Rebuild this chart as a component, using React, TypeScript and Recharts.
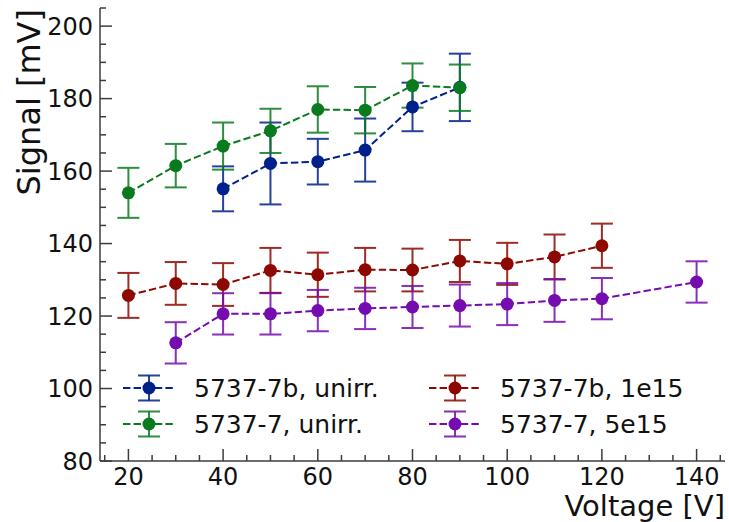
import React from "react";
import { ComposedChart, Line, XAxis, YAxis, ErrorBar } from "recharts";

// 5737-7b, unirr.
const volt7bUnirr = [40, 50, 60, 70, 80, 90];
const signal7bUnirr = [155.1, 162.1, 162.6, 165.8, 177.7, 183.1];
const err7bUnirr = [6.2, 11.3, 6.3, 8.7, 6.7, 9.3];

// 5737-7, unirr.
const volt7Unirr = [20, 30, 40, 50, 60, 70, 80, 90];
const signal7Unirr = [154.0, 161.5, 166.9, 171.1, 177.0, 176.8, 183.6, 183.0];
const err7Unirr = [6.9, 6.0, 6.5, 6.1, 6.4, 6.4, 6.1, 6.4];

// 5737-7b, 1e15
const volt7b1e15 = [20, 30, 40, 50, 60, 70, 80, 90, 100, 110, 120];
const signal7b1e15 = [125.7, 129.0, 128.7, 132.6, 131.4, 132.8, 132.7, 135.2, 134.4, 136.3, 139.4];
const err7b1e15 = [6.2, 5.9, 5.9, 6.2, 6.1, 6.0, 5.9, 5.8, 5.8, 6.2, 6.1];

// 5737-7, 5e15
const volt75e15 = [30, 40, 50, 60, 70, 80, 90, 100, 110, 120, 140];
const signal75e15 = [112.6, 120.6, 120.6, 121.5, 122.1, 122.5, 122.9, 123.3, 124.3, 124.8, 129.4];
const err75e15 = [5.7, 5.7, 5.7, 5.7, 5.7, 5.8, 5.8, 5.8, 5.9, 5.7, 5.7];

const xTicks = [15, 20, 25, 30, 35, 40, 45, 50, 55, 60, 65, 70, 75, 80, 85, 90, 95, 100, 105, 110, 115, 120, 125, 130, 135, 140, 145];
const xMajor = [20, 40, 60, 80, 100, 120, 140];
const yTicks = [80, 85, 90, 95, 100, 105, 110, 115, 120, 125, 130, 135, 140, 145, 150, 155, 160, 165, 170, 175, 180, 185, 190, 195, 200, 205];
const yMajor = [80, 100, 120, 140, 160, 180, 200];

const FONT = "DejaVu Sans";
const AXIS = "#3c3c3c";
const MAJOR_LEN = 12;
const MINOR_LEN = 6;
const X_GAP = 6;
const Y_GAP = 7;
const TICK_FONT = 24;
const LEGEND_FONT = 25;

const BLUE = "#00208c";
const GREEN = "#0a7a1e";
const RED = "#8c0800";
const PURPLE = "#750cb0";

const toRows = (v: number[], s: number[], e: number[]) => v.map((x, i) => ({ volt: x, signal: s[i], err: e[i] }));

const series = [
  { name: "5737-7b, unirr.", color: BLUE, data: toRows(volt7bUnirr, signal7bUnirr, err7bUnirr) },
  { name: "5737-7, unirr.", color: GREEN, data: toRows(volt7Unirr, signal7Unirr, err7Unirr) },
  { name: "5737-7b, 1e15", color: RED, data: toRows(volt7b1e15, signal7b1e15, err7b1e15) },
  { name: "5737-7, 5e15", color: PURPLE, data: toRows(volt75e15, signal75e15, err75e15) },
];

function BottomTick(props: any) {
  const { x, y, payload } = props;
  const major = xMajor.includes(payload.value);
  const axisY = y - X_GAP;
  return (
    <g>
      <line x1={x} x2={x} y1={axisY} y2={axisY - (major ? MAJOR_LEN : MINOR_LEN)} stroke={AXIS} strokeWidth={1.5} />
      {major && (
        <text x={x} y={y} dy="0.73em" textAnchor="middle" fontSize={TICK_FONT} fontFamily={FONT} fill="#111">
          {payload.value}
        </text>
      )}
    </g>
  );
}

function TopTick(props: any) {
  const { x, y, payload } = props;
  const major = xMajor.includes(payload.value);
  return <line x1={x} x2={x} y1={y} y2={y + (major ? MAJOR_LEN : MINOR_LEN)} stroke={AXIS} strokeWidth={1.5} />;
}

function LeftTick(props: any) {
  const { x, y, payload } = props;
  const major = yMajor.includes(payload.value);
  const axisX = x + Y_GAP;
  return (
    <g>
      <line x1={axisX} x2={axisX + (major ? MAJOR_LEN : MINOR_LEN)} y1={y} y2={y} stroke={AXIS} strokeWidth={1.5} />
      {major && (
        <text x={x} y={y} dy="0.36em" textAnchor="end" fontSize={TICK_FONT} fontFamily={FONT} fill="#111">
          {payload.value}
        </text>
      )}
    </g>
  );
}

function RightTick(props: any) {
  const { x, y, payload } = props;
  const major = yMajor.includes(payload.value);
  return <line x1={x} x2={x - (major ? MAJOR_LEN : MINOR_LEN)} y1={y} y2={y} stroke={AXIS} strokeWidth={1.5} />;
}

function LegendIcon({ cx, cy, color }: { cx: number; cy: number; color: string }) {
  return (
    <g>
      <line x1={cx - 26} x2={cx + 26} y1={cy} y2={cy} stroke={color} strokeWidth={2} strokeDasharray="7.4 3.2" />
      <line x1={cx} x2={cx} y1={cy - 12.5} y2={cy + 12.5} stroke={color} strokeWidth={2} opacity={0.85} />
      <line x1={cx - 11} x2={cx + 11} y1={cy - 12.5} y2={cy - 12.5} stroke={color} strokeWidth={2} opacity={0.85} />
      <line x1={cx - 11} x2={cx + 11} y1={cy + 12.5} y2={cy + 12.5} stroke={color} strokeWidth={2} opacity={0.85} />
      <circle cx={cx} cy={cy} r={6.5} fill={color} />
    </g>
  );
}

function ChartLegend() {
  const cols = [149, 455];
  const rows = [388, 424];
  return (
    <svg width={729} height={522} style={{ position: "absolute", left: 0, top: 0, pointerEvents: "none" }}>
      {series.map((s, i) => {
        const cx = cols[Math.floor(i / 2)];
        const cy = rows[i % 2];
        return (
          <g key={s.name}>
            <LegendIcon cx={cx} cy={cy} color={s.color} />
            <text x={cx + 45} y={cy + 9} fontSize={LEGEND_FONT} fontFamily={FONT} fill="#111">
              {s.name}
            </text>
          </g>
        );
      })}
    </svg>
  );
}

export default function App() {
  return (
    <div style={{ position: "relative", width: 729, height: 522, background: "#fff" }}>
      <style>{"body{margin:0}"}</style>
      <ComposedChart width={729} height={522} margin={{ top: 8, right: 4, left: 0, bottom: 0 }}>
        <XAxis
          xAxisId="bottom"
          dataKey="volt"
          type="number"
          domain={[14, 146]}
          allowDataOverflow
          ticks={xTicks}
          interval={0}
          height={61}
          tickSize={0}
          tickMargin={X_GAP}
          tick={<BottomTick />}
          axisLine={{ stroke: AXIS, strokeWidth: 1.5 }}
          label={{
            content: (p: any) => (
              <text
                x={p.viewBox.x + p.viewBox.width}
                y={p.viewBox.y + 55}
                textAnchor="end"
                fontSize={29}
                fontFamily={FONT}
                fill="#111"
              >
                Voltage [V]
              </text>
            ),
          }}
        />
        <XAxis
          xAxisId="top"
          orientation="top"
          type="number"
          dataKey="volt"
          domain={[14, 146]}
          allowDataOverflow
          ticks={xTicks}
          interval={0}
          height={0}
          tickSize={0}
          tickMargin={0}
          tick={<TopTick />}
          axisLine={{ stroke: AXIS, strokeWidth: 1.5 }}
        />
        <YAxis
          yAxisId="left"
          type="number"
          domain={[80, 205]}
          allowDataOverflow
          ticks={yTicks}
          interval={0}
          width={100}
          tickSize={0}
          tickMargin={Y_GAP}
          tick={<LeftTick />}
          axisLine={{ stroke: AXIS, strokeWidth: 1.5 }}
          label={{
            content: (p: any) => (
              <text
                transform={`translate(${p.viewBox.x + 40},${p.viewBox.y + 1}) rotate(-90)`}
                textAnchor="end"
                fontSize={32}
                fontFamily={FONT}
                fill="#111"
              >
                Signal [mV]
              </text>
            ),
          }}
        />
        <YAxis
          yAxisId="right"
          orientation="right"
          type="number"
          domain={[80, 205]}
          allowDataOverflow
          ticks={yTicks}
          interval={0}
          width={0}
          tickSize={0}
          tickMargin={0}
          tick={<RightTick />}
          axisLine={{ stroke: AXIS, strokeWidth: 1.5 }}
        />
        {series.map((s) => (
          <Line
            key={s.name}
            data={s.data}
            xAxisId="bottom"
            yAxisId="left"
            dataKey="signal"
            stroke={s.color}
            strokeWidth={2}
            strokeDasharray="7.4 3.2"
            dot={{ r: 6.5, fill: s.color, stroke: "none" }}
            activeDot={false}
            isAnimationActive={false}
          >
            <ErrorBar dataKey="err" direction="y" width={11} strokeWidth={2} stroke={s.color} opacity={0.85} />
          </Line>
        ))}
      </ComposedChart>
      <ChartLegend />
    </div>
  );
}
